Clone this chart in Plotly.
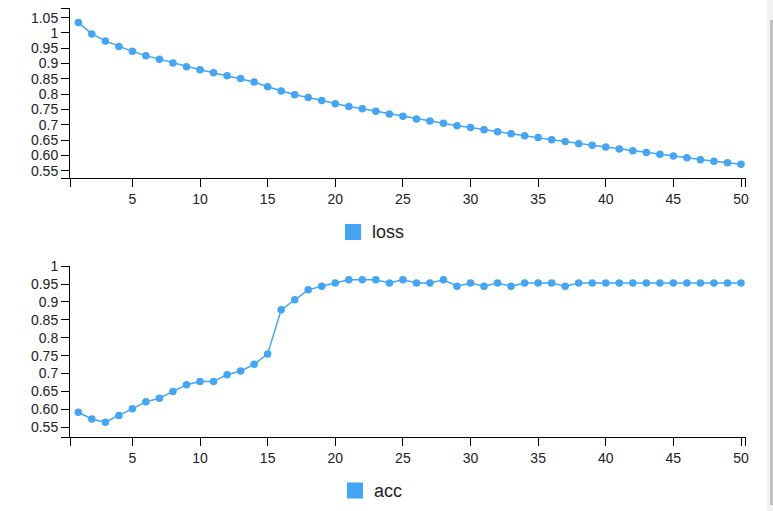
import plotly.graph_objects as go

epochs = list(range(1, 51))
loss = [1.034, 0.997, 0.974, 0.956, 0.940, 0.926, 0.914, 0.902, 0.890, 0.880,
        0.870, 0.860, 0.851, 0.840, 0.824, 0.810, 0.798, 0.789, 0.779, 0.769,
        0.760, 0.752, 0.744, 0.735, 0.728, 0.719, 0.712, 0.705, 0.697, 0.691,
        0.684, 0.677, 0.671, 0.664, 0.658, 0.651, 0.645, 0.638, 0.633, 0.627,
        0.621, 0.615, 0.609, 0.604, 0.598, 0.592, 0.586, 0.581, 0.576, 0.571]
acc = [0.592, 0.573, 0.564, 0.583, 0.602, 0.621, 0.631, 0.650, 0.669, 0.678,
       0.678, 0.697, 0.707, 0.726, 0.755, 0.878, 0.906, 0.934, 0.944, 0.953,
       0.962, 0.962, 0.962, 0.953, 0.962, 0.953, 0.953, 0.962, 0.944, 0.953,
       0.944, 0.953, 0.944, 0.953, 0.953, 0.953, 0.944, 0.953, 0.953, 0.953,
       0.953, 0.953, 0.953, 0.953, 0.953, 0.953, 0.953, 0.953, 0.953, 0.953]

x_ticks = [5, 10, 15, 20, 25, 30, 35, 40, 45, 50]
loss_ticks = [0.55, 0.60, 0.65, 0.7, 0.75, 0.8, 0.85, 0.9, 0.95, 1, 1.05]
loss_labels = ["0.55", "0.60", "0.65", "0.7", "0.75", "0.8", "0.85", "0.9", "0.95", "1", "1.05"]
acc_ticks = [0.55, 0.60, 0.65, 0.7, 0.75, 0.8, 0.85, 0.9, 0.95, 1]
acc_labels = ["0.55", "0.60", "0.65", "0.7", "0.75", "0.8", "0.85", "0.9", "0.95", "1"]

W, H = 773, 511
BLUE = "#42a5f5"
FONT = "Liberation Sans, Arial, sans-serif"

X_RANGE = [0.386, 50.37]
LOSS_RANGE = [0.525, 1.0807]
ACC_RANGE = [0.522, 1.0]

def px(x):
    return x / W

def py(y):
    return 1 - y / H

fig = go.Figure()
fig.add_trace(go.Scatter(x=epochs, y=loss, mode="lines+markers", name="loss",
                         line=dict(color=BLUE, width=1.5),
                         marker=dict(color=BLUE, size=7.5),
                         xaxis="x", yaxis="y", showlegend=False, hoverinfo="skip"))
fig.add_trace(go.Scatter(x=epochs, y=acc, mode="lines+markers", name="acc",
                         line=dict(color=BLUE, width=1.5),
                         marker=dict(color=BLUE, size=7.5),
                         xaxis="x2", yaxis="y2", showlegend=False, hoverinfo="skip"))

xcommon = dict(range=X_RANGE, showline=True, linecolor="#000", linewidth=1,
               ticks="outside", ticklen=8, tickcolor="#000", tickwidth=1,
               showgrid=False, zeroline=False, automargin=False,
               tickvals=[X_RANGE[0] + 0.01] + x_ticks + [X_RANGE[1] - 0.01],
               ticktext=[""] + [str(v) for v in x_ticks] + [""],
               tickfont=dict(family=FONT, size=14, color="#222"),
               domain=[px(70), px(746)], fixedrange=True)

ycommon = dict(showline=True, linecolor="#000", linewidth=1,
               ticks="outside", ticklen=8, tickcolor="#000", tickwidth=1,
               showgrid=False, zeroline=False, automargin=False,
               tickfont=dict(family=FONT, size=14, color="#222"), fixedrange=True)

fig.update_layout(
    width=W, height=H, autosize=False,
    margin=dict(l=0, r=0, t=0, b=0),
    paper_bgcolor="white", plot_bgcolor="white",
    font=dict(family=FONT, size=14, color="#222"),
    xaxis=dict(anchor="y", **xcommon),
    xaxis2=dict(anchor="y2", **xcommon),
    yaxis=dict(anchor="x", range=LOSS_RANGE,
               domain=[py(178.3), py(8.3)],
               tickvals=[LOSS_RANGE[0] + 0.0005] + loss_ticks + [LOSS_RANGE[1] - 0.0005],
               ticktext=[""] + loss_labels + [""], **ycommon),
    yaxis2=dict(anchor="x2", range=ACC_RANGE,
                domain=[py(437.3), py(266.2)],
                tickvals=[ACC_RANGE[0] + 0.0005] + acc_ticks,
                ticktext=[""] + acc_labels, **ycommon),
    showlegend=False,
)

# legend keys
shapes = [
    dict(type="rect", xref="paper", yref="paper", x0=px(345), x1=px(361),
         y0=py(240), y1=py(224), fillcolor=BLUE, line=dict(width=0)),
    dict(type="rect", xref="paper", yref="paper", x0=px(347), x1=px(363),
         y0=py(498.5), y1=py(482.5), fillcolor=BLUE, line=dict(width=0)),
    # browser scrollbar strip
    dict(type="rect", xref="paper", yref="paper", x0=px(767), x1=px(773),
         y0=0, y1=1, fillcolor="#f1f1f1", line=dict(width=0)),
    dict(type="rect", xref="paper", yref="paper", x0=px(770), x1=px(773),
         y0=py(505), y1=py(20), fillcolor="#c1c1c1", line=dict(width=0)),
]
fig.update_layout(shapes=shapes)

fig.add_annotation(x=px(370), y=py(232.5), xref="paper", yref="paper",
                   text="loss", showarrow=False, xanchor="left", yanchor="middle",
                   font=dict(family=FONT, size=18, color="#222"))
fig.add_annotation(x=px(372), y=py(491), xref="paper", yref="paper",
                   text="acc", showarrow=False, xanchor="left", yanchor="middle",
                   font=dict(family=FONT, size=18, color="#222"))

fig.write_html("out.html", config={"displayModeBar": False},
               post_script="document.body.style.margin='0';document.body.style.overflow='hidden';")
